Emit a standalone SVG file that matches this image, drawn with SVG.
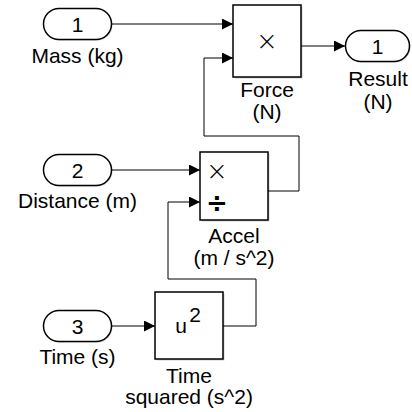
<svg xmlns="http://www.w3.org/2000/svg" width="412" height="412" viewBox="0 0 412 412">
<style>
  text { font-family: "Liberation Sans", Arial, sans-serif; font-size: 21px; fill: #000; text-anchor: middle; }
  .blk { fill: #fff; stroke: #000; stroke-width: 1.5; }
  .shd { fill: #000; opacity: 0.2; }
  .port { fill: #fff; stroke: #000; stroke-width: 1.5; }
  .wire { fill: none; stroke: #000; stroke-width: 1; }
  .sym { font-family: "DejaVu Sans", sans-serif; font-weight: 200; font-size: 26px; }
</style>
<defs>
  <marker id="arr" markerUnits="userSpaceOnUse" markerWidth="12" markerHeight="12" refX="11" refY="5.5" orient="auto">
    <path d="M0,0 L11,5.5 L0,11 Z" fill="#000"/>
  </marker>
</defs>
<g id="connectors">
  <path class="wire" d="M112,24 H233" marker-end="url(#arr)"/>
  <path class="wire" d="M301,46 H345" marker-end="url(#arr)"/>
  <path class="wire" d="M112,170 H200" marker-end="url(#arr)"/>
  <path class="wire" d="M268,191 H299 V136 H204 V58 H233" marker-end="url(#arr)"/>
  <path class="wire" d="M112,326 H155" marker-end="url(#arr)"/>
  <path class="wire" d="M223,326 H256 V279 H168 V202 H200" marker-end="url(#arr)"/>
</g>
<g id="in1">
  <rect class="shd" x="44.5" y="9.5" width="68" height="31" rx="15.5"/>
  <rect class="port" x="43.5" y="8.5" width="68" height="31" rx="15.5"/>
  <text x="77.5" y="31.5">1</text>
  <text x="77.5" y="63">Mass (kg)</text>
</g>
<g id="in2">
  <rect class="shd" x="44.5" y="155.5" width="68" height="31" rx="15.5"/>
  <rect class="port" x="43.5" y="154.5" width="68" height="31" rx="15.5"/>
  <text x="77.5" y="177.5">2</text>
  <text x="77.5" y="208">Distance (m)</text>
</g>
<g id="in3">
  <rect class="shd" x="44.5" y="311.5" width="68" height="31" rx="15.5"/>
  <rect class="port" x="43.5" y="310.5" width="68" height="31" rx="15.5"/>
  <text x="77.5" y="333.5">3</text>
  <text x="77.5" y="364">Time (s)</text>
</g>
<g id="force">
  <rect class="shd" x="234.5" y="6.5" width="68" height="72"/>
  <rect class="blk" x="233" y="5" width="68" height="72"/>
  <text class="sym" x="267" y="50">×</text>
  <text x="267" y="97">Force</text>
  <text x="267" y="119">(N)</text>
</g>
<g id="result">
  <rect class="shd" x="346.5" y="31.5" width="64" height="31" rx="15.5"/>
  <rect class="port" x="345.5" y="30.5" width="64" height="31" rx="15.5"/>
  <text x="377.5" y="53.5">1</text>
  <text x="378" y="86">Result</text>
  <text x="378" y="109">(N)</text>
</g>
<g id="accel">
  <rect class="shd" x="201.5" y="153.5" width="68" height="68"/>
  <rect class="blk" x="200" y="152" width="68" height="68"/>
  <text class="sym" x="217" y="180">×</text>
  <text class="sym" x="217" y="212" style="font-weight:bold">÷</text>
  <text x="234" y="243">Accel</text>
  <text x="234" y="265">(m / s^2)</text>
</g>
<g id="square">
  <rect class="shd" x="156.5" y="293.5" width="68" height="67"/>
  <rect class="blk" x="155" y="292" width="68" height="67"/>
  <text x="181" y="333">u</text>
  <text x="195" y="322">2</text>
  <text x="189" y="383">Time</text>
  <text x="189" y="404">squared (s^2)</text>
</g>
</svg>
